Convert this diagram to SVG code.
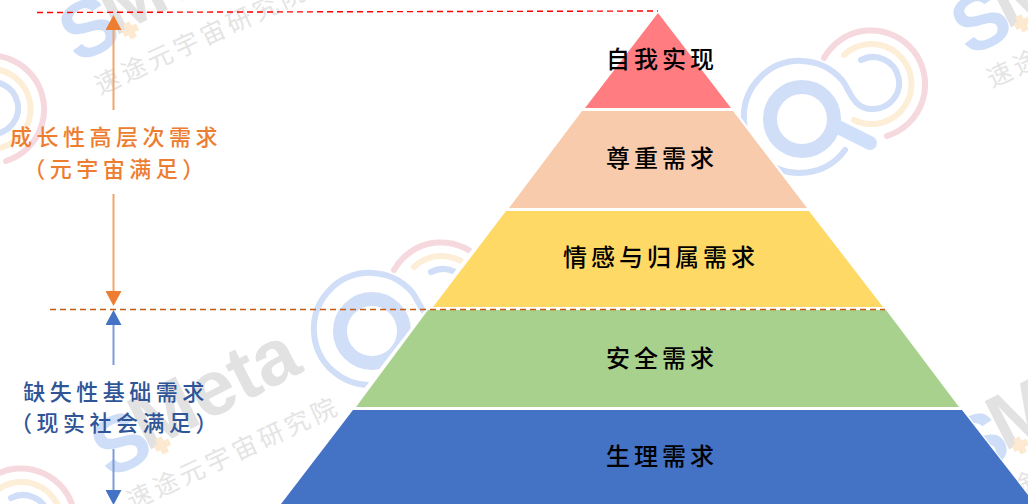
<svg xmlns="http://www.w3.org/2000/svg" xmlns:xlink="http://www.w3.org/1999/xlink" width="1028" height="504" viewBox="0 0 1028 504">
<style>
text{font-family:"Noto Sans CJK SC","Noto Sans",sans-serif}
.lab{font-size:24px;font-weight:500;letter-spacing:4px;fill:#000;text-anchor:middle}
.side{font-size:22px;font-weight:500;letter-spacing:4.5px;text-anchor:middle}
.or{fill:#ed7d31}.bl{fill:#2f5597}
.wmS{font-family:"Liberation Sans",sans-serif;font-weight:bold;font-size:80px;fill:#cfdef8}
.wmM{font-family:"Liberation Sans",sans-serif;font-weight:bold;font-size:78px;fill:#e2e2e2}
.wmT{font-size:25px;letter-spacing:4px;fill:#e4e4e4}
.a{fill:none;stroke-linecap:round;stroke-width:6}
</style>
<defs>
<marker id="ao" markerUnits="userSpaceOnUse" markerWidth="15" markerHeight="16" refX="0" refY="8" orient="auto"><path d="M0 0L15 8L0 16z" fill="#ed7d31"/></marker>
<marker id="ab" markerUnits="userSpaceOnUse" markerWidth="15" markerHeight="16" refX="0" refY="8" orient="auto"><path d="M0 0L15 8L0 16z" fill="#4472c4"/></marker>
<g id="logo">
<circle cx="802" cy="119" r="32" fill="none" stroke="#d0def8" stroke-width="14"/>
<path d="M840 128L870 143" fill="none" stroke="#d0e0fa" stroke-width="14" stroke-linecap="round"/>
<path class="a" stroke="#d0def8" d="M845 150A56 56 0 1 1 842 80C850 90 853 109 872 109A26 26 0 1 0 861 60"/>
<path class="a" stroke="#fdeed8" d="M854 120A40 40 0 1 0 844 55"/>
<path class="a" stroke="#f6d9de" d="M887 136A54 54 0 1 0 824 58"/>
</g>
<g id="wm">
<g transform="rotate(-27)">
<text class="wmM" x="-14" y="-2">Meta</text>
<text class="wmS" x="-60" y="6">S</text>
<path d="M-5 -4h4v-5h7v5h5v7h-5v5h-7v-5h-4z" fill="#fde8d0"/>
</g>
<text class="wmT" transform="translate(-28 63) rotate(-25)">速途元宇宙研究院</text>
</g>
</defs>
<rect width="1028" height="504" fill="#fff"/>
<g id="watermarks">
<use xlink:href="#logo" href="#logo"/>
<use xlink:href="#logo" href="#logo" transform="translate(-430 212)"/>
<use xlink:href="#logo" href="#logo" transform="translate(-881 25)"/>
<use xlink:href="#logo" href="#logo" transform="translate(-850 438)"/>
<use xlink:href="#wm" href="#wm" transform="translate(128 32)"/>
<use xlink:href="#wm" href="#wm" transform="translate(1020 25)"/>
<use xlink:href="#wm" href="#wm" transform="translate(160 447)"/>
<use xlink:href="#wm" href="#wm" transform="translate(1018 447)"/>
</g>
<path d="M658 13L1060 540L250 540Z" fill="#fff" stroke="#fff" stroke-width="5"/>
<g id="level-self">
<polygon points="658,13 731,108 585,108" fill="#ff7c80"/>
<text class="lab" x="662" y="68">自我实现</text>
</g>
<g id="level-esteem">
<polygon points="582,111 733,111 807,208 509,208" fill="#f8cbad"/>
<text class="lab" x="662" y="167">尊重需求</text>
</g>
<g id="level-belonging">
<polygon points="506,211 809,211 883,307 433,307" fill="#ffd966"/>
<text class="lab" x="661" y="266">情感与归属需求</text>
</g>
<g id="level-safety">
<polygon points="428,310 886,310 959,407 356,407" fill="#a9d18e"/>
<text class="lab" x="662" y="367">安全需求</text>
</g>
<g id="level-physiological">
<polygon points="353,410 962,410 1035,504 281,504" fill="#4472c4"/>
<text class="lab" x="662" y="465">生理需求</text>
</g>
<g id="connectors">
<path d="M37 12.5L658 11" fill="none" stroke="#ff0000" stroke-width="1.4" stroke-dasharray="6 4"/>
<path d="M50 309.5L885 309.5" fill="none" stroke="#c55a11" stroke-width="1.4" stroke-dasharray="6 4"/>
<path d="M113.5 110V30" fill="none" stroke="#f4a469" stroke-width="2" marker-end="url(#ao)"/>
<path d="M113.5 194V291" fill="none" stroke="#f4a469" stroke-width="2" marker-end="url(#ao)"/>
<path d="M113.5 365V325" fill="none" stroke="#7c9cd8" stroke-width="2" marker-end="url(#ab)"/>
<path d="M113.5 449V490" fill="none" stroke="#7c9cd8" stroke-width="2" marker-end="url(#ab)"/>
</g>
<g id="label-growth">
<text class="side or" x="116" y="145">成长性高层次需求</text>
<text class="side or" x="116" y="177">（元宇宙满足）</text>
</g>
<g id="label-deficit">
<text class="side bl" x="116" y="400">缺失性基础需求</text>
<text class="side bl" x="116" y="431">（现实社会满足）</text>
</g>
</svg>
